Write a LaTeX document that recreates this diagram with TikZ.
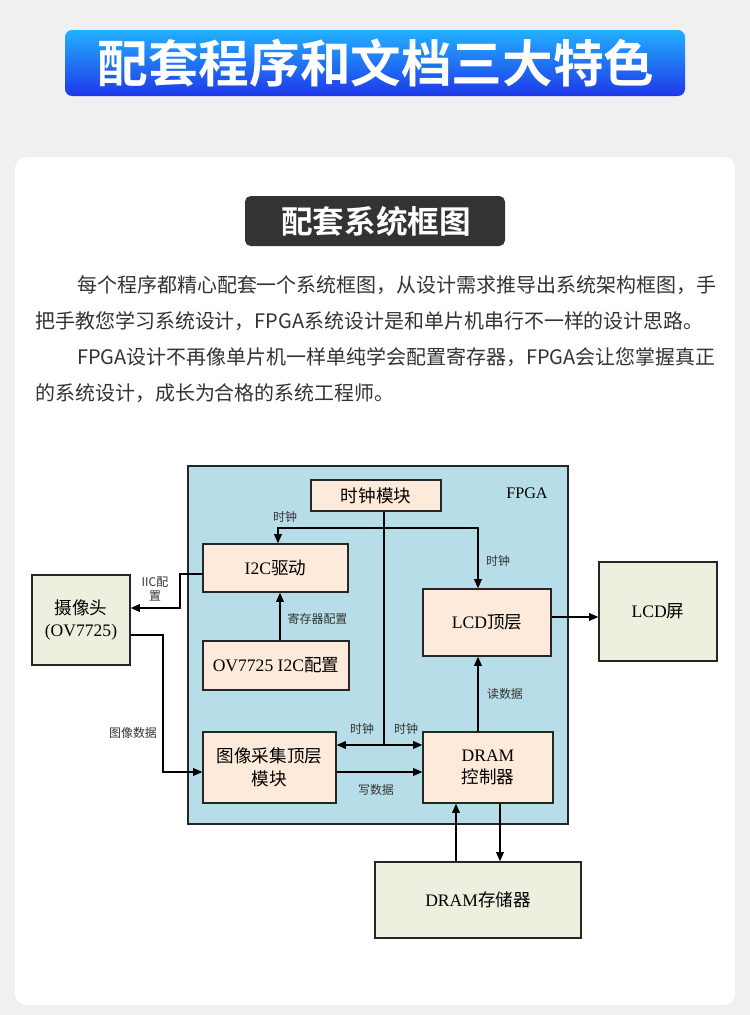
\documentclass[tikz,border=0pt]{standalone}
\usepackage{fontspec}
\usetikzlibrary{arrows.meta}
\newfontfamily\cjk{Noto Sans CJK SC}
\newfontfamily\cjkbold{Noto Sans CJK SC Bold}
\newfontfamily\latfont{Liberation Serif}
\newcommand\lat[1]{{\latfont #1}}
\newcommand\px{0.025cm}
\definecolor{pagegray}{HTML}{F0F0F0}
\definecolor{bluetop}{HTML}{22B0FF}
\definecolor{bluebot}{HTML}{1E38E8}
\definecolor{darkbox}{HTML}{333333}
\definecolor{txtgray}{HTML}{333333}
\definecolor{fpgablue}{HTML}{B7DDE8}
\definecolor{modfill}{HTML}{FDEADA}
\definecolor{extfill}{HTML}{EBF1DE}
\definecolor{edge}{HTML}{262626}
\tikzset{
  sz/.style 2 args={minimum width=#1*\px, minimum height=#2*\px, inner sep=0pt},
  modbox/.style={draw=edge, line width=1pt, fill=modfill, align=center,
    font=\cjk\fontsize{12.5pt}{16pt}\selectfont},
  extbox/.style={draw=edge, line width=1pt, fill=extfill, align=center,
    font=\cjk\fontsize{12.5pt}{16pt}\selectfont},
  lbl/.style={font=\cjk\fontsize{8.5pt}{10pt}\selectfont, text=txtgray, inner sep=1pt, align=center},
  para/.style={anchor=west, inner sep=0pt, text=txtgray, font=\cjk\fontsize{14.2pt}{18pt}\selectfont},
  wire/.style={draw=black, line width=0.8pt},
  arr/.style={wire, -{Triangle[length=6.5pt, width=5.5pt]}},
  darr/.style={wire, {Triangle[length=6.5pt, width=5.5pt]}-{Triangle[length=6.5pt, width=5.5pt]}},
}
\begin{document}
\begin{tikzpicture}[x=0.025cm, y=-0.025cm]
    \useasboundingbox (0,0) rectangle (750,1015);
    % 背景与卡片
    \fill[pagegray] (0,0) rectangle (750,1015);
    \fill[white, rounded corners=8pt] (15,157) rectangle (735,1005);

    % 标题横幅
    \shade[top color=bluetop, bottom color=bluebot, rounded corners=5pt] (65,30) rectangle (685,96);
    \node[text=white, font=\cjkbold\fontsize{36pt}{40pt}\selectfont] (title) at (376,63) {配套程序和文档三大特色};

    % 小标题
    \fill[darkbox, rounded corners=4pt] (245,196) rectangle (505,246);
    \node[text=white, font=\cjkbold\fontsize{22.5pt}{26pt}\selectfont] (subtitle) at (376,221) {配套系统框图};

    % 说明文字
    \node[para] (line1) at (77,285) {每个程序都精心配套一个系统框图，从设计需求推导出系统架构框图，手};
    \node[para] (line2) at (35,321) {把手教您学习系统设计，FPGA系统设计是和单片机串行不一样的设计思路。};
    \node[para] (line3) at (77,357) {FPGA设计不再像单片机一样单纯学会配置寄存器，FPGA会让您掌握真正};
    \node[para] (line4) at (35,393) {的系统设计，成长为合格的系统工程师。};

    % FPGA 区域
    \draw[edge, line width=1pt, fill=fpgablue] (188,466) rectangle (568,824);
    \node[font=\latfont\fontsize{11.5pt}{13pt}\selectfont] (fpga) at (527,493) {FPGA};

    % 模块
    \node[modbox, sz={130}{31}] (clk) at (376,495.5) {时钟模块};
    \node[modbox, sz={145}{48}] (i2c) at (275.5,568) {\lat{I2C}驱动};
    \node[modbox, sz={146}{49}] (ov) at (276,665.5) {\lat{OV7725 I2C}配置};
    \node[modbox, sz={133}{71}] (acq) at (269.5,767.5) {图像采集顶层\\模块};
    \node[modbox, sz={130}{71}] (dram) at (488,767.5) {\lat{DRAM}\\控制器};
    \node[modbox, sz={128}{67}] (lcd) at (487,622.5) {\lat{LCD}顶层};

    % 外部器件
    \node[extbox, sz={98}{90}] (cam) at (81,620) {摄像头\\\lat{(OV7725)}};
    \node[extbox, sz={118}{99}] (scr) at (658,611.5) {\lat{LCD}屏};
    \node[extbox, sz={206}{76}] (mem) at (478,900) {\lat{DRAM}存储器};

    % 连线用的拐点
    \coordinate (clktop) at (384,528);
    \coordinate (clkbus) at (384,745);
    \coordinate (ck1) at (278,528);
    \coordinate (ck2) at (478,528);
    \coordinate (regc) at (280,619);
    \coordinate (iicb) at (180,608);
    \coordinate (imgb) at (163,772);
    \coordinate (lcdo) at (575,617);
    \coordinate (mrd) at (456,840);
    \coordinate (mwr) at (500,840);

    % 时钟
    \draw[wire] (clk.south -| clkbus) -- (clkbus);
    \draw[arr] (clktop) -| (i2c.north -| ck1);
    \draw[arr] (clktop) -| (lcd.north -| ck2);
    \draw[darr] (acq.east |- clkbus) -- (dram.west |- clkbus);
    \node[lbl] (c1) at (285,517) {时钟};
    \node[lbl] (c2) at (498,561) {时钟};
    \node[lbl] (c3) at (362,729) {时钟};
    \node[lbl] (c4) at (406,729) {时钟};

    % 配置
    \draw[arr] (ov.north -| regc) -- (i2c.south -| regc);
    \node[lbl, anchor=west] (c5) at (286,619) {寄存器配置};
    \draw[arr] ([yshift=-4.3pt]i2c.west) -| (iicb) -- (cam.east |- iicb);
    \node[lbl] (c6) at (155,589) {IIC配\\置};

    % 数据通路
    \draw[arr] ([yshift=-10.7pt]cam.east) -| (imgb) -- (acq.west |- imgb);
    \node[lbl] (c7) at (133,733) {图像数据};
    \draw[arr] (acq.east |- imgb) -- (dram.west |- imgb);
    \node[lbl] (c8) at (376,790) {写数据};
    \draw[arr] (dram.north -| ck2) -- (lcd.south -| ck2);
    \node[lbl] (c9) at (505,694) {读数据};
    \draw[arr] (lcd.east |- lcdo) -- (scr.west |- lcdo);
    \draw[arr] (mem.north -| mrd) -- (dram.south -| mrd);
    \draw[arr] (dram.south -| mwr) -- (mem.north -| mwr);
\end{tikzpicture}
\end{document}
